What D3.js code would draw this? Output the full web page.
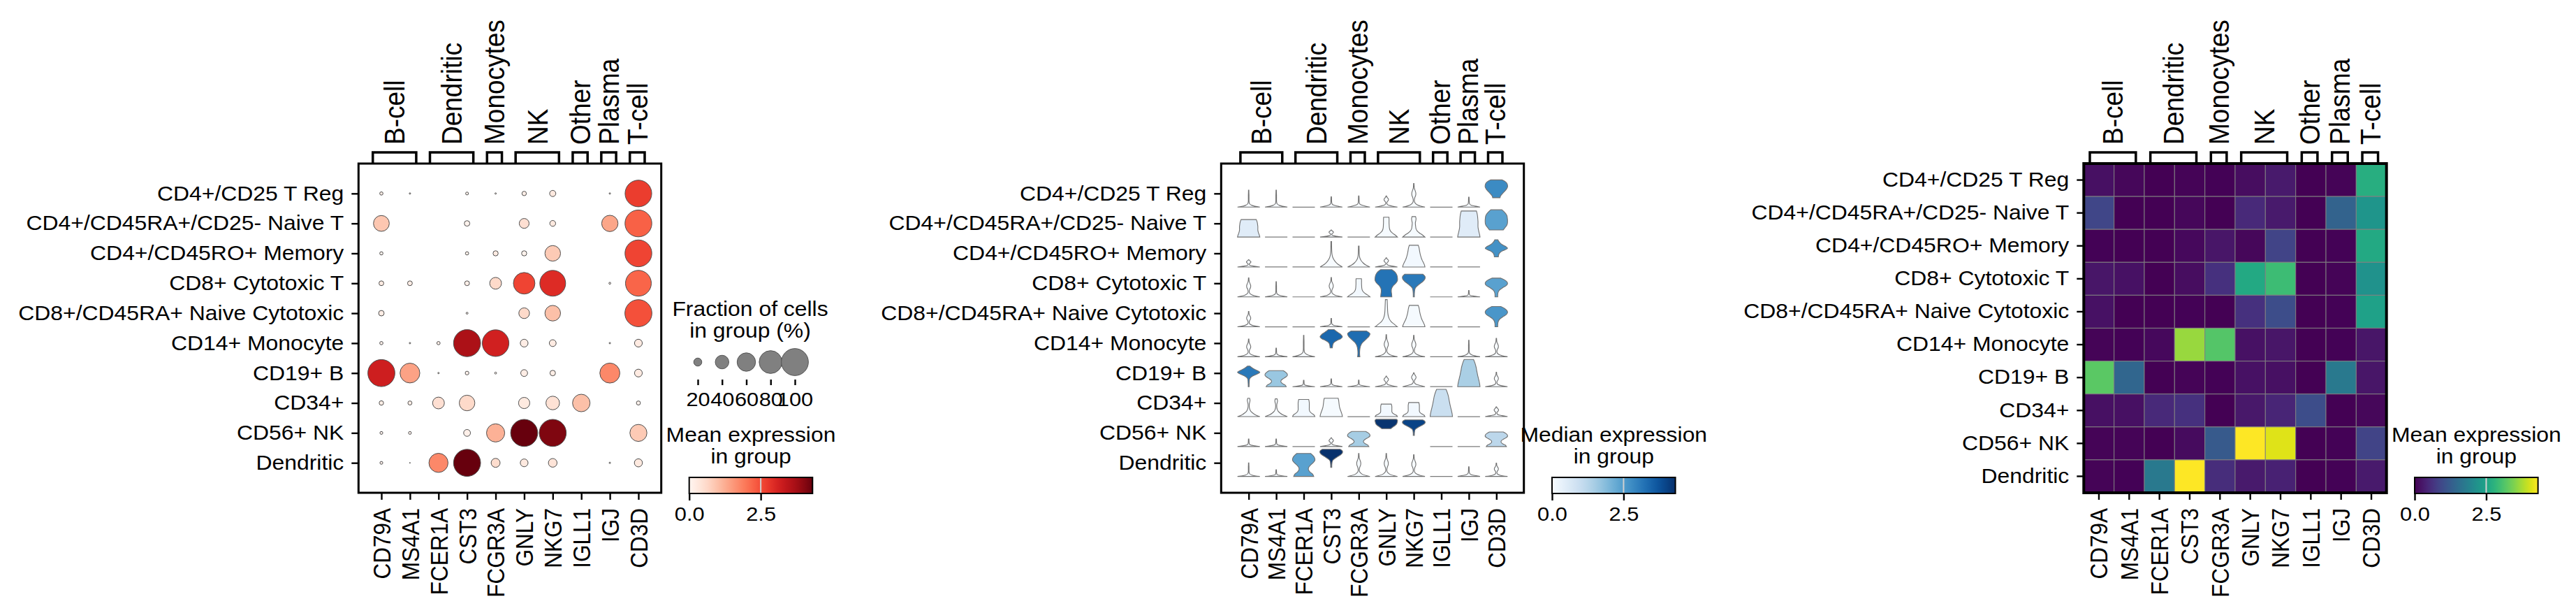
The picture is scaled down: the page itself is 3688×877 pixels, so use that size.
<!DOCTYPE html>
<html>
<head>
<meta charset="utf-8">
<script src="https://cdn.jsdelivr.net/npm/d3@7"></script>
<style>
body { margin: 0; background: #fff; }
text { font-family: 'Liberation Sans', Arial, Helvetica, sans-serif; fill: #000; }
</style>
</head>
<body>
<svg id="chart" width="3688" height="877"></svg>
<script>
// ---- data ----
var genes = ["CD79A", "MS4A1", "FCER1A", "CST3", "FCGR3A", "GNLY", "NKG7", "IGLL1", "IGJ", "CD3D"];
var categories = ["CD4+/CD25 T Reg", "CD4+/CD45RA+/CD25- Naive T", "CD4+/CD45RO+ Memory",
    "CD8+ Cytotoxic T", "CD8+/CD45RA+ Naive Cytotoxic", "CD14+ Monocyte", "CD19+ B",
    "CD34+", "CD56+ NK", "Dendritic"];
var groupNames = ["B-cell", "Dendritic", "Monocytes", "NK", "Other", "Plasma", "T-cell"];
var groupStart = [0, 2, 4, 5, 7, 8, 9];
var groupEnd = [1, 3, 4, 6, 7, 8, 9];

// fraction of cells expressing (%), rows = categories, cols = genes
var fractionPct = [
    [6, 2, 0, 5, 2, 9, 14, 0, 2, 98],
    [49, 0, 0, 12, 0, 26, 13, 0, 51, 99],
    [6, 0, 0, 6, 11, 11, 48, 0, 0, 99],
    [10, 10, 0, 10, 33, 74, 94, 0, 3, 94],
    [12, 0, 0, 3, 0, 29, 48, 0, 0, 100],
    [6, 2, 6, 100, 98, 19, 16, 0, 2, 19],
    [100, 66, 2, 7, 3, 16, 12, 0, 67, 19],
    [9, 8, 33, 48, 0, 31, 40, 56, 0, 8],
    [5, 5, 0, 16, 59, 100, 100, 0, 0, 54],
    [5, 1, 63, 100, 23, 19, 22, 0, 2, 20]
];
// mean expression in group
var meanExpr = [
    [0.17, 0.08, 0.0, 0.05, 0.02, 0.15, 0.3, 0.0, 0.05, 2.7],
    [0.9, 0.0, 0.0, 0.08, 0.0, 0.5, 0.3, 0.0, 1.35, 2.25],
    [0.03, 0.0, 0.0, 0.1, 0.25, 0.08, 0.86, 0.0, 0.02, 2.6],
    [0.25, 0.2, 0.0, 0.15, 0.6, 2.6, 2.95, 0.0, 0.05, 2.2],
    [0.2, 0.0, 0.0, 0.03, 0.0, 0.6, 1.0, 0.0, 0.02, 2.45],
    [0.05, 0.02, 0.1, 3.65, 3.15, 0.2, 0.25, 0.0, 0.03, 0.25],
    [3.2, 1.4, 0.0, 0.05, 0.02, 0.2, 0.18, 0.0, 1.75, 0.25],
    [0.18, 0.18, 0.5, 0.6, 0.0, 0.28, 0.45, 1.0, 0.0, 0.07],
    [0.04, 0.04, 0.0, 0.12, 1.2, 4.31, 4.1, 0.0, 0.02, 0.86],
    [0.05, 0.02, 1.75, 4.31, 0.55, 0.3, 0.4, 0.0, 0.03, 0.3]
];
// median expression (violin fill)
var violinMedian = [
    [0, 0, 0, 0, 0, 0, 0, 0, 0, 2.8],
    [0.5, 0, 0, 0, 0, 0.05, 0.05, 0, 0.5, 2.4],
    [0, 0, 0, 0, 0, 0, 0.1, 0, 0, 2.7],
    [0, 0, 0, 0, 0.1, 3.2, 3.1, 0, 0, 2.4],
    [0, 0, 0, 0, 0, 0.05, 0.05, 0, 0, 2.6],
    [0, 0, 0, 3.4, 3.3, 0, 0, 0, 0, 0],
    [3.1, 1.65, 0, 0, 0, 0, 0, 0, 1.45, 0],
    [0, 0, 0.1, 0.05, 0, 0.1, 0.1, 0.95, 0, 0],
    [0, 0, 0, 0, 1.5, 4.25, 4.0, 0, 0, 1.2],
    [0, 0, 2.4, 4.3, 0.05, 0, 0, 0, 0, 0]
];
// violin data range (lowest / highest value)
var violinLo = [
    [0, 0, 0, 0, 0, 0, 0, 0, 0, 1.55],
    [0, 0, 0, 0, 0, 0, 0, 0, 0, 1.2],
    [0, 0, 0, 0, 0, 0, 0, 0, 0, 1.65],
    [0, 0, 0, 0, 0, 0, 0, 0, 0, 0],
    [0, 0, 0, 0, 0, 0, 0, 0, 0, 0],
    [0, 0, 0, 1.45, 0, 0, 0, 0, 0, 0],
    [0, 0, 0, 0, 0, 0, 0, 0, 0, 0],
    [0, 0, 0, 0, 0, 0, 0, 0, 0, 0],
    [0, 0, 0, 0, 0, 2.95, 1.85, 0, 0, 0],
    [0, 0, 0, 1.5, 0, 0, 0, 0, 0, 0]
];
var violinHi = [
    [2.8, 2.8, 0, 1.7, 1.85, 1.85, 3.9, 0, 1.65, 4.5],
    [2.95, 0, 0, 1.2, 0, 3.35, 3.45, 0, 4.4, 4.6],
    [1.2, 0, 0, 4.15, 3.4, 1.5, 3.55, 0, 0, 4.45],
    [3.15, 2.5, 0, 3.2, 3.0, 4.5, 3.75, 0, 1.05, 3.1],
    [2.55, 0, 0, 1.4, 0, 4.5, 3.55, 0, 0, 3.35],
    [2.9, 1.4, 3.5, 4.45, 4.2, 3.6, 3.5, 0, 2.7, 3.0],
    [3.4, 2.65, 1.05, 1.3, 1.1, 1.75, 2.3, 0, 4.5, 2.4],
    [3.0, 2.9, 2.8, 3.0, 0, 2.05, 2.3, 4.45, 0, 1.6],
    [1.25, 1.25, 0, 1.45, 2.5, 4.5, 4.4, 0, 0, 2.4],
    [2.25, 1.1, 3.8, 4.5, 3.8, 3.8, 3.6, 0, 1.6, 2.2]
];
// violin outline kind per cell
var violinShape = [
    ["spikeT", "spikeT", "flat", "spikeS", "spikeS", "lensS", "lensT", "flat", "spikeS", "fan"],
    ["jar", "flat", "flat", "lensS", "flat", "cone", "coneKnob", "flat", "jar", "barrel"],
    ["lensS", "flat", "flat", "tent", "tent", "lensS", "bell", "flat", "flat", "diamond"],
    ["lensT", "spikeT", "flat", "lensT", "cone", "waistTop", "mushroom", "flat", "spikeS", "stemFan"],
    ["lensT", "flat", "flat", "spikeS", "flat", "coneNarrow", "bell", "flat", "flat", "stemFan"],
    ["lensT", "spikeS", "spikeT", "diamondHigh", "funnel", "lensT", "lensT", "flat", "spikeT", "lensT"],
    ["tailDiamond", "hourglass", "spikeS", "spikeS", "spikeS", "lensS", "lensS", "flat", "dome", "lensT"],
    ["tentKnob", "tentKnob", "bottle", "trap", "flat", "bottle", "bottle", "dome", "flat", "lensS"],
    ["spikeS", "spikeS", "flat", "lensS", "hourglass", "cap", "mushroom", "flat", "flat", "hourglass"],
    ["spikeT", "spikeS", "hourglass", "mushroom", "lensT", "lensT", "lensT", "flat", "spikeS", "lensT"]
];
// relative violin widths, bottom -> top (11 levels)
var profSpikeT = [1, .3, .08, .04, .03, .03, .03, .03, .025, .02, .015];
var profSpikeS = [1, .55, .2, .08, .05, .04, .035, .03, .03, .025, .02];
var profLensT = [1, .3, .08, .05, .09, .17, .18, .12, .05, .03, .02];
var profLensS = [1, .5, .15, .06, .05, .1, .18, .2, .14, .06, .02];
var profTent = [1, .62, .38, .22, .12, .07, .05, .04, .035, .03, .03];
var profTentKnob = [1, .6, .35, .18, .1, .06, .05, .06, .1, .12, .08];
var profCone = [1, .8, .55, .38, .3, .27, .26, .25, .25, .25, .24];
var profConeKnob = [1, .78, .5, .3, .2, .17, .15, .14, .18, .2, .16];
var profConeNarrow = [1, .7, .42, .26, .18, .14, .12, .11, .1, .09, .08];
var profBell = [1, .95, .86, .76, .68, .62, .57, .53, .5, .46, .4];
var profBottle = [1, .92, .7, .55, .5, .5, .5, .5, .5, .48, .45];
var profTrap = [1, .97, .92, .86, .8, .75, .72, .7, .68, .66, .62];
var profJar = [1, .96, .9, .85, .82, .82, .82, .8, .78, .74, .68];
var profDome = [1, .97, .92, .86, .8, .75, .7, .66, .6, .52, .42];
var profHourglass = [.9, .8, .55, .42, .45, .62, .85, 1, .98, .85, .62];
var profFan = [.33, .38, .5, .65, .8, .92, 1, 1, .95, .8, .5];
var profBarrel = [.62, .75, .9, .98, 1, 1, .98, .95, .85, .7, .5];
var profDiamond = [.18, .2, .26, .42, .72, 1, .85, .55, .35, .22, .14];
var profDiamondHigh = [.1, .12, .15, .25, .5, .85, 1, .9, .7, .45, .25];
var profTailDiamond = [.04, .04, .05, .06, .1, .3, .7, 1, .7, .35, .1];
var profStemFan = [.12, .12, .14, .2, .35, .6, .88, 1, .95, .75, .4];
var profMushroom = [.05, .05, .06, .08, .15, .35, .6, .85, 1, 1, .8];
var profFunnel = [.1, .08, .08, .1, .15, .25, .45, .7, .92, 1, .7];
var profCap = [.4, .5, .62, .75, .85, .92, .96, .98, 1, 1, .92];
var profWaistTop = [.5, .48, .45, .47, .6, .85, 1, 1, .95, .8, .5];

var sizeLegendPct = [20, 40, 60, 80, 100];
var colorbarTicks = [0, 2.5];
var colorMax = 4.31;

var profiles = {
    spikeT: profSpikeT, spikeS: profSpikeS, lensT: profLensT, lensS: profLensS,
    tent: profTent, tentKnob: profTentKnob, cone: profCone, coneKnob: profConeKnob,
    coneNarrow: profConeNarrow, bell: profBell, bottle: profBottle, trap: profTrap,
    jar: profJar, dome: profDome, hourglass: profHourglass, fan: profFan, barrel: profBarrel,
    diamond: profDiamond, diamondHigh: profDiamondHigh, tailDiamond: profTailDiamond,
    stemFan: profStemFan, mushroom: profMushroom, funnel: profFunnel, cap: profCap,
    waistTop: profWaistTop
};

// ---- layout ----
var fontFam = "'Liberation Sans', Arial, Helvetica, sans-serif";
var plotTop = 234, plotBottom = 705, panelW = 433.4;
var dotLeft = 513.3, vioLeft = 1748.3, matLeft = 2983.3;
// text in the picture is a bit wider than plain Arial
var sxH = 1.1, sxV = 1.12;

var svg = d3.select("#chart");
svg.append("rect").attr("width", 3688).attr("height", 877).attr("fill", "#fff");
var defs = svg.append("defs");

function styleAxis(ax, fs) {
    ax.attr("font-family", fontFam).attr("font-size", fs);
    ax.select(".domain").remove();
    ax.selectAll(".tick line").attr("stroke", "#000").attr("stroke-width", 2.4);
    ax.selectAll(".tick text").attr("fill", "#000");
}

function drawRowAxis(x, scale, vals, fmt) {
    var ax = svg.append("g").attr("transform", "translate(" + x + ",0)")
        .call(d3.axisLeft(scale).tickValues(vals).tickFormat(fmt).tickSize(10).tickPadding(11));
    styleAxis(ax, 29);
    ax.selectAll(".tick text").attr("x", -21 / sxH).attr("transform", "scale(" + sxH + ",1)");
}

function drawGeneAxis(scale, vals, fmt) {
    var ax = svg.append("g").attr("transform", "translate(0," + plotBottom + ")")
        .call(d3.axisBottom(scale).tickValues(vals).tickFormat(fmt).tickSize(10));
    styleAxis(ax, 31.5);
    ax.selectAll(".tick text").attr("transform", "scale(" + sxV + ",1) rotate(-90)")
        .attr("x", -22).attr("y", 0).attr("dy", "0.35em").style("text-anchor", "end");
}

function drawBrackets(centerOf, unit) {
    groupNames.forEach(function (name, gi) {
        var xl = centerOf(groupStart[gi]) - 0.3 * unit;
        var xr = centerOf(groupEnd[gi]) + 0.22 * unit;
        svg.append("path").attr("d", "M" + xl + "," + plotTop + "V218H" + xr + "V" + plotTop)
            .attr("fill", "none").attr("stroke", "#000").attr("stroke-width", 3.5);
        svg.append("text")
            .attr("transform", "translate(" + ((xl + xr) / 2) + ",207) scale(" + sxV + ",1) rotate(-90)")
            .attr("dy", "0.35em").attr("font-size", 37).text(name);
    });
}

function drawFrame(x0, sw) {
    svg.append("rect").attr("x", x0).attr("y", plotTop).attr("width", panelW)
        .attr("height", plotBottom - plotTop).attr("fill", "none")
        .attr("stroke", "#000").attr("stroke-width", sw);
}

function hText(cx, y, str) {
    svg.append("text").attr("transform", "translate(" + cx + "," + y + ") scale(" + sxH + ",1)")
        .attr("text-anchor", "middle").attr("font-size", 29).text(str);
}

function drawTitle(cx, y1, line1, line2) {
    hText(cx, y1, line1);
    hText(cx, y1 + 31, line2);
}

function drawColorbar(id, x0, interp, line1) {
    var cbW = 176.6, cbY = 683, cbH = 23;
    var s = d3.scaleLinear().domain([0, colorMax]).range([x0, x0 + cbW]);
    var grad = defs.append("linearGradient").attr("id", id);
    d3.range(0, 1.0001, 0.05).forEach(function (t) {
        grad.append("stop").attr("offset", t).attr("stop-color", interp(t));
    });
    svg.append("rect").attr("x", x0).attr("y", cbY).attr("width", cbW).attr("height", cbH)
        .attr("fill", "url(#" + id + ")").attr("stroke", "#000").attr("stroke-width", 2);
    svg.append("line").attr("x1", s(2.5)).attr("x2", s(2.5)).attr("y1", cbY + 1).attr("y2", cbY + cbH - 1)
        .attr("stroke", "#d0d0d0").attr("stroke-width", 2);
    var ax = svg.append("g").attr("transform", "translate(0," + (cbY + cbH) + ")")
        .call(d3.axisBottom(s).tickValues(colorbarTicks).tickFormat(d3.format(".1f")).tickSize(10).tickPadding(9));
    styleAxis(ax, 28);
    ax.selectAll(".tick text").attr("transform", "scale(" + sxH + ",1)");
    drawTitle(x0 + cbW / 2, 632, line1, "in group");
}

// ---- panel 1: dot plot ----
var dotX = d3.scaleLinear().domain([-0.8, 9.8]).range([dotLeft, dotLeft + panelW]);
var rowY = d3.scaleLinear().domain([-1, 10]).range([plotTop, plotBottom]);
var dotR = d3.scalePow().exponent(0.75).domain([0, 100]).range([0, 19.35]);
var reds = d3.scaleSequential(d3.interpolateReds).domain([0, colorMax]);

var dotCells = [];
categories.forEach(function (c, i) {
    genes.forEach(function (g, j) {
        dotCells.push({ r: i, c: j, pct: fractionPct[i][j], val: meanExpr[i][j] });
    });
});
svg.append("g").selectAll("circle").data(dotCells.filter(function (d) { return d.pct > 0; }))
    .join("circle")
    .attr("cx", function (d) { return dotX(d.c); })
    .attr("cy", function (d) { return rowY(d.r); })
    .attr("r", function (d) { return dotR(d.pct); })
    .attr("fill", function (d) { return reds(d.val); })
    .attr("stroke", "#4d4d4d").attr("stroke-width", 1);

drawFrame(dotLeft, 3);
drawRowAxis(dotLeft, rowY, d3.range(categories.length), function (i) { return categories[i]; });
drawGeneAxis(dotX, d3.range(genes.length), function (i) { return genes[i]; });
drawBrackets(dotX, dotX(1) - dotX(0));

// size legend
drawTitle(1074, 452, "Fraction of cells", "in group (%)");
var sizeX = d3.scalePoint().domain(sizeLegendPct).range([999, 1138]);
svg.append("g").selectAll("circle").data(sizeLegendPct).join("circle")
    .attr("cx", function (d) { return sizeX(d); }).attr("cy", 518)
    .attr("r", function (d) { return dotR(d); })
    .attr("fill", "#808080").attr("stroke", "#555").attr("stroke-width", 1);
var sizeAx = svg.append("g").attr("transform", "translate(0,543)")
    .call(d3.axisBottom(sizeX).tickSize(8).tickPadding(10));
styleAxis(sizeAx, 28);
sizeAx.selectAll(".tick text").attr("transform", "scale(" + sxH + ",1)");
drawColorbar("gradReds", 986.7, d3.interpolateReds, "Mean expression");

// ---- panel 2: stacked violin ----
var vioX = d3.scaleLinear().domain([-1, 10]).range([vioLeft, vioLeft + panelW]);
var blues = d3.scaleSequential(d3.interpolateBlues).domain([0, colorMax]);
var halfW = vioX(0.406) - vioX(0);
var vioArea = d3.area().curve(d3.curveCatmullRom.alpha(0.5))
    .y(function (d) { return d.y; })
    .x0(function (d) { return d.cx - d.w; })
    .x1(function (d) { return d.cx + d.w; });

var vioG = svg.append("g");
categories.forEach(function (c, i) {
    var rowMax = d3.max(violinHi[i]);
    var vy = d3.scaleLinear().domain([0, rowMax]).range([rowY(i + 0.455), rowY(i - 0.455)]);
    genes.forEach(function (g, j) {
        var cx = vioX(j);
        var kind = violinShape[i][j];
        if (kind === "flat") {
            vioG.append("line").attr("x1", cx - halfW).attr("x2", cx + halfW)
                .attr("y1", vy(0)).attr("y2", vy(0))
                .attr("stroke", "#7a7a7a").attr("stroke-width", 1.2);
            return;
        }
        var lo = violinLo[i][j], hi = violinHi[i][j];
        var pts = profiles[kind].map(function (p, k) {
            return { y: vy(lo + (hi - lo) * k / 10), w: Math.max(p * halfW, 0.3), cx: cx };
        });
        vioG.append("path").attr("d", vioArea(pts))
            .attr("fill", blues(violinMedian[i][j]))
            .attr("stroke", "#707070").attr("stroke-width", 1.1);
    });
});

drawFrame(vioLeft, 3);
drawRowAxis(vioLeft, rowY, d3.range(categories.length), function (i) { return categories[i]; });
drawGeneAxis(vioX, d3.range(genes.length), function (i) { return genes[i]; });
drawBrackets(vioX, vioX(1) - vioX(0));
drawColorbar("gradBlues", 2222, d3.interpolateBlues, "Median expression");

// ---- panel 3: matrix plot ----
var matX = d3.scaleBand().domain(genes).range([matLeft, matLeft + panelW]);
var matY = d3.scaleBand().domain(categories).range([plotTop, plotBottom]);
var viridis = d3.scaleSequential(d3.interpolateViridis).domain([0, colorMax]);

svg.append("g").selectAll("rect").data(dotCells).join("rect")
    .attr("x", function (d) { return matX(genes[d.c]); })
    .attr("y", function (d) { return matY(categories[d.r]); })
    .attr("width", matX.bandwidth()).attr("height", matY.bandwidth())
    .attr("fill", function (d) { return viridis(d.val); })
    .attr("stroke", "#7f7f7f").attr("stroke-opacity", 0.8).attr("stroke-width", 1.2);

drawFrame(matLeft, 4);
var matCenter = function (j) { return matX(genes[j]) + matX.bandwidth() / 2; };
drawRowAxis(matLeft, matY, categories, function (d) { return d; });
drawGeneAxis(matX, genes, function (d) { return d; });
drawBrackets(matCenter, matX.bandwidth());
drawColorbar("gradViridis", 3457, d3.interpolateViridis, "Mean expression");
</script>
</body>
</html>
